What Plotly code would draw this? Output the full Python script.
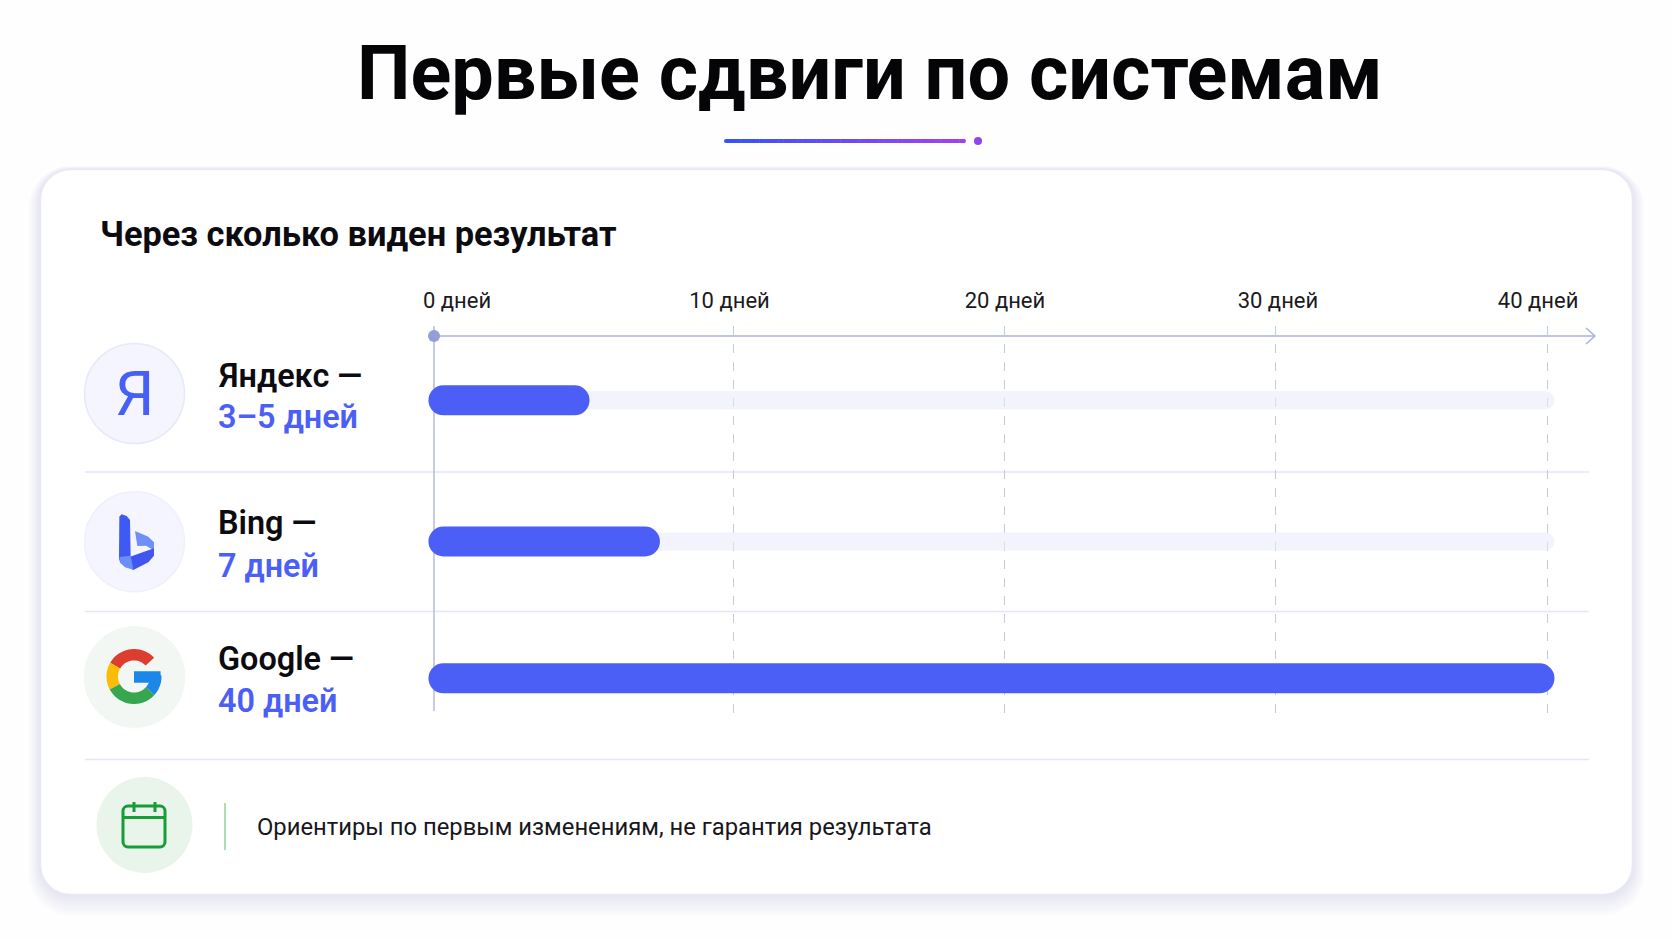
import math
import plotly.graph_objects as go

# ---------- data ----------
engines = ["Яндекс —", "Bing —", "Google —"]
period_labels = ["3–5 дней", "7 дней", "40 дней"]
bar_start_days = [-0.2, -0.2, -0.2]
bar_end_days = [5.59, 8.12, 40.27]
track_end_days = [40.27, 40.27, 40.27]
grid_days = [10.78, 20.5, 30.24, 40]
tick_label_days = [0.83, 10.62, 20.52, 30.33, 39.68]
tick_labels = ["0 дней", "10 дней", "20 дней", "30 дней", "40 дней"]
TITLE = "Первые сдвиги по системам"
SUBTITLE = "Через сколько виден результат"
NOTE = "Ориентиры по первым изменениям, не гарантия результата"

# ---------- layout constants ----------
W, H = 1672, 941
X0, PX_PER_DAY = 434, 27.825
GRID_TOP, GRID_BOTTOM = 326, 714
ROW_Y = [400.3, 541.5, 678.3]
NAME_Y = [376, 523, 659]
PERIOD_Y = [417, 566, 700.5]
BLUE, INK = "#4b5ff6", "#0b0b10"
FONT = "Roboto"


def px(x):
    return x / W


def py(y):
    return 1 - y / H


shapes, annotations = [], []


def path(d, fill=None, line=None, width=0, layer="below"):
    shapes.append(dict(type="path", xref="paper", yref="paper", path=d, layer=layer,
                       fillcolor=fill or "rgba(0,0,0,0)",
                       line=dict(color=line or "rgba(0,0,0,0)", width=width)))


def P(x, y):
    return f"{px(x):.6f},{py(y):.6f}"


def poly(points, fill):
    path("M" + " L".join(P(x, y) for x, y in points) + " Z", fill=fill)


def line(x1, y1, x2, y2, color, width=1, dash=None, layer="below"):
    shapes.append(dict(type="line", xref="paper", yref="paper", x0=px(x1), x1=px(x2),
                       y0=py(y1), y1=py(y2), layer=layer,
                       line=dict(color=color, width=width, dash=dash or "solid")))


def circle(cx, cy, r, fill, border=None, layer="below"):
    shapes.append(dict(type="circle", xref="paper", yref="paper", x0=px(cx - r), x1=px(cx + r),
                       y0=py(cy - r), y1=py(cy + r), layer=layer, fillcolor=fill,
                       line=dict(color=border or "rgba(0,0,0,0)", width=1.5 if border else 0)))


def rrect(x1, y1, x2, y2, r, fill, border=None, width=0):
    k = 0.45 * r
    d = (f"M{P(x1 + r, y1)} L{P(x2 - r, y1)} C{P(x2 - k, y1)} {P(x2, y1 + k)} {P(x2, y1 + r)} "
         f"L{P(x2, y2 - r)} C{P(x2, y2 - k)} {P(x2 - k, y2)} {P(x2 - r, y2)} "
         f"L{P(x1 + r, y2)} C{P(x1 + k, y2)} {P(x1, y2 - k)} {P(x1, y2 - r)} "
         f"L{P(x1, y1 + r)} C{P(x1, y1 + k)} {P(x1 + k, y1)} {P(x1 + r, y1)} Z")
    path(d, fill=fill, line=border, width=width)


def text(x, y, s, size, color=INK, weight=400, anchor="left"):
    annotations.append(dict(xref="paper", yref="paper", x=px(x), y=py(y), text=s, showarrow=False,
                            xanchor=anchor, yanchor="middle", align=anchor,
                            font=dict(family=FONT, size=size, color=color, weight=weight)))


def sector(cx, cy, r1, r2, a1, a2, fill):
    steps = 24
    pts = []
    for i in range(steps + 1):
        a = math.radians(a1 + (a2 - a1) * i / steps)
        pts.append((cx + r2 * math.cos(a), cy - r2 * math.sin(a)))
    for i in range(steps, -1, -1):
        a = math.radians(a1 + (a2 - a1) * i / steps)
        pts.append((cx + r1 * math.cos(a), cy - r1 * math.sin(a)))
    poly(pts, fill)


# ---------- card ----------
for i in range(12, 0, -1):
    rrect(40.5 - i, 169.5 - i * 0.3, 1632.5 + i, 894.5 + i * 1.8, 30 + i, "rgba(88,96,170,0.010)")
rrect(40.5, 169.5, 1632.5, 894.5, 30, "#ffffff", "#e8e9f5", 1.5)

# ---------- title underline ----------
n = 50
c1, c2 = (54, 84, 246), (164, 64, 240)
for i in range(n):
    t = i / (n - 1)
    col = "rgb(%d,%d,%d)" % tuple(round(a + (b - a) * t) for a, b in zip(c1, c2))
    line(726 + (964 - 726) * i / n, 141, 726 + (964 - 726) * (i + 1) / n + 0.5, 141, col, 4)
circle(726, 141, 2, "rgb(54,84,246)")
circle(964, 141, 2, "rgb(164,64,240)")
circle(978, 141, 4, "#8f46ef")

# ---------- separators and axis ----------
for y in [472, 611.5, 759.5]:
    line(85, y, 1589, y, "#e4e6f4", 1.5)
line(434, 336, 1595, 336, "#a9b1e2", 1.5)
path(f"M{P(1586, 328)} L{P(1595, 336)} L{P(1586, 344)}", line="#a9b1e2", width=1.5)
line(434, 326, 434, 711, "#b4bae2", 1.5)
circle(434, 336, 6, "#949ed8")

# ---------- icons ----------
circle(134.5, 393.5, 50, "#f4f5fe", "#e7e9fa")
circle(134.5, 541.7, 50, "#f4f5fe", "#eff0fb")
circle(134.5, 677, 50, "#f2f7f3", "#f2f7f3")
text(134, 393.5, "Я", 62, "#4660f5", 400, "center")


def bing(points, fill):
    poly([(80 + x / 3, 485 + y / 3) for x, y in points], fill)


bing([(165, 138), (205, 155), (222, 172), (222, 196), (198, 182), (172, 183)], "#6f8ff9")
bing([(222, 190), (222, 212), (205, 232), (160, 255), (140, 244), (150, 215)], "#3f57f0")
bing([(118, 95), (125, 88), (140, 93), (150, 105), (152, 214), (140, 240), (120, 232), (117, 220)], "#3f5af3")
bing([(118, 216), (152, 212), (160, 254), (135, 247), (122, 235)], "#6a8ff8")

gx, gy, gi, go_ = 134, 676.5, 16, 27.5
sector(gx, gy, gi, go_, 43, 150, "#dd3d2f")
sector(gx, gy, gi, go_, 150, 208, "#fbbc08")
sector(gx, gy, gi, go_, 208, 318, "#36a64f")
sector(gx, gy, gi, go_, 318, 362, "#1b87e6")
poly([(134, 671.3), (160.5, 671.3), (161, 682.8), (134, 682.8)], "#1b87e6")

# calendar footer
circle(144.5, 825, 48, "#e9f4ea")
rrect(123, 806, 165, 847, 5, None, "#169c38", 3)
line(123, 817.5, 165, 817.5, "#169c38", 3)
line(134, 802, 134, 812, "#169c38", 3)
line(155, 802, 155, 812, "#169c38", 3)
line(225, 803, 225, 850, "#8dd49a", 1.5)

# ---------- text ----------
text(869.5, 72.5, TITLE, 75.6, "#050508", 700, "center")
text(97.5, 234, SUBTITLE, 34.4, "#0b0b10", 700)
for name, period, yn, yp in zip(engines, period_labels, NAME_Y, PERIOD_Y):
    text(215.5, yn, name, 32.4, INK, 600)
    text(215.5, yp, period, 32.4, BLUE, 600)
text(254.5, 827, NOTE, 23.8, "#17171c", 400)

# ---------- bars through the axes ----------
fig = go.Figure()
fig.add_trace(go.Bar(
    y=ROW_Y[:2], x=[e - s for e, s in zip(track_end_days[:2], bar_start_days[:2])],
    base=bar_start_days[:2], orientation="h", width=18,
    marker=dict(color="rgba(232,234,250,0.55)", cornerradius=9, line_width=0), hoverinfo="skip"))
fig.add_trace(go.Bar(
    y=ROW_Y, x=[e - s for e, s in zip(bar_end_days, bar_start_days)],
    base=bar_start_days, orientation="h", width=30,
    marker=dict(color=BLUE, cornerradius=15, line_width=0), hoverinfo="skip"))
fig.add_trace(go.Scatter(x=tick_label_days, y=[GRID_TOP] * 5, xaxis="x2", mode="markers",
                         marker=dict(opacity=0), hoverinfo="skip"))

x_range = [-X0 / PX_PER_DAY, (W - X0) / PX_PER_DAY]
fig.update_layout(
    width=W, height=H, margin=dict(l=0, r=0, t=0, b=0), autosize=False,
    paper_bgcolor="#fefefe", plot_bgcolor="rgba(0,0,0,0)", showlegend=False, barmode="overlay",
    shapes=shapes, annotations=annotations,
    xaxis=dict(domain=[0, 1], range=x_range, tickmode="array", tickvals=grid_days, showticklabels=False,
               showgrid=True, gridcolor="#c6c9df", griddash="dash", gridwidth=1.2, zeroline=False,
               showline=False, ticks=""),
    xaxis2=dict(domain=[0, 1], range=x_range, overlaying="x", side="top", anchor="y", tickmode="array",
                tickvals=tick_label_days, ticktext=tick_labels, showgrid=False, zeroline=False, showline=False,
                ticks="outside", ticklen=8, tickcolor="rgba(0,0,0,0)",
                tickfont=dict(family=FONT, size=22, color="#1a1a20")),
    yaxis=dict(domain=[1 - GRID_BOTTOM / H, 1 - GRID_TOP / H], range=[GRID_BOTTOM, GRID_TOP], visible=False,
               fixedrange=True),
)
fig.write_html("out.html", post_script="document.body.style.margin='0';", config={"displayModeBar": False})
